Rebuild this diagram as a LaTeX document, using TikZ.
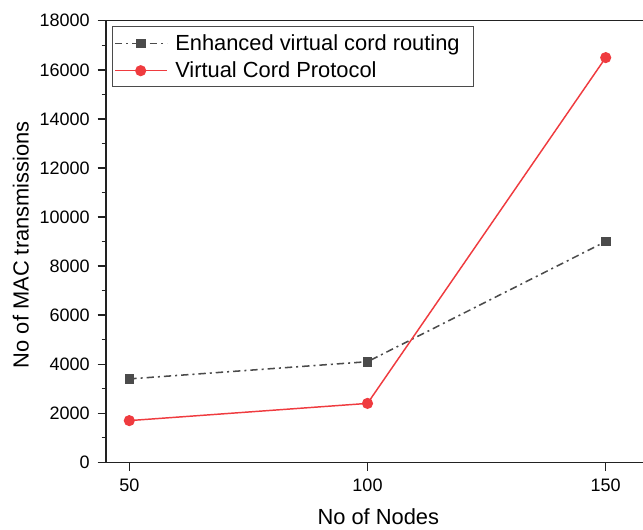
\documentclass[tikz,border=0pt]{standalone}
\usepackage{fontspec}
\setmainfont{Liberation Sans}
\definecolor{enhgray}{HTML}{4B4B4B}
\definecolor{vcpred}{HTML}{EF3B3F}
\definecolor{axisblack}{HTML}{222222}
\begin{document}
\begin{tikzpicture}[x=0.75pt,y=-0.75pt,
  axisline/.style={draw=axisblack,line width=1pt},
  ticklabel/.style={inner sep=0pt,font=\fontsize{13.5}{16}\selectfont,text=black},
  axislabel/.style={inner sep=0pt,font=\fontsize{16.4}{19}\selectfont,text=black},
  legendtext/.style={inner sep=0pt,anchor=base west,font=\fontsize{16.4}{19}\selectfont,text=black},
  enhline/.style={draw=enhgray,line width=1.15pt,dash pattern=on 5.5pt off 3pt on 1.5pt off 3pt},
  vcpline/.style={draw=vcpred,line width=1.1pt},
  sqmark/.style={rectangle,fill=enhgray,minimum size=7.2pt,inner sep=0pt},
  circmark/.style={circle,fill=vcpred,minimum size=8.4pt,inner sep=0pt},
  legendbox/.style={draw=enhgray,line width=0.6pt}]
\useasboundingbox (0,0) rectangle (643,529);

% axes frame (left, top, bottom)
\draw[axisline] (643,20.7) -- (106,20.7) -- (106,462.3) -- (643,462.3);

% y ticks: major every 2000 with labels, minor every 1000
\foreach \k in {0,...,18} {
  \pgfmathsetmacro{\yy}{462.3-\k*24.528}
  \pgfmathparse{mod(\k,2)==0 ? 1 : 0}
  \ifnum\pgfmathresult=1
    \draw[axisline] (97.7,\yy) -- (106,\yy);
  \else
    \draw[axisline] (101.7,\yy) -- (106,\yy);
  \fi
}
\foreach \v [count=\i from 0] in {0,2000,4000,6000,8000,10000,12000,14000,16000,18000} {
  \pgfmathsetmacro{\yy}{462.3-\i*49.056}
  \node[ticklabel,anchor=east] (yl\i) at (90,\yy) {\v};
}

% x ticks
\foreach \xv/\xx in {50/129.3,100/367.5,150/605.7} {
  \draw[axisline] (\xx,462.3) -- (\xx,470.7);
  \node[ticklabel,anchor=base] (xl\xv) at (\xx,491.7) {\xv};
}

% axis titles
\node[axislabel,anchor=base] (xtitle) at (378.3,524.5) {No of Nodes};
\node[axislabel,anchor=base,rotate=90] (ytitle) at (28.7,244.7) {No of MAC transmissions};

% data points
\coordinate (e50) at (129.3,378.9);
\coordinate (e100) at (367.5,361.7);
\coordinate (e150) at (605.7,241.5);
\coordinate (r50) at (129.3,420.6);
\coordinate (r100) at (367.5,403.4);
\coordinate (r150) at (605.7,57.6);

% Enhanced virtual cord routing
\draw[enhline] (e50) -- (e100) -- (e150);
\foreach \p in {e50,e100,e150} \node[sqmark] (m\p) at (\p) {};

% Virtual Cord Protocol
\draw[vcpline] (r50) -- (r100) -- (r150);
\foreach \p in {r50,r100,r150} \node[circmark] (m\p) at (\p) {};

% legend
\draw[legendbox] (112.7,26.7) rectangle (473,86);
\coordinate (la1) at (115,43.3);
\coordinate (lb1) at (167,43.3);
\coordinate (la2) at (115,70.7);
\coordinate (lb2) at (167,70.7);
\draw[enhline,dash pattern=on 5.5pt off 3pt on 1.5pt off 3pt,dash phase=0pt] (la1) -- (lb1);
\node[sqmark] (lm1) at (140.7,43.3) {};
\draw[vcpline] (la2) -- (lb2);
\node[circmark] (lm2) at (140.7,70.7) {};
\node[legendtext] (lt1) at (175,50) {Enhanced virtual cord routing};
\node[legendtext] (lt2) at (175,77.3) {Virtual Cord Protocol};
\end{tikzpicture}
\end{document}
